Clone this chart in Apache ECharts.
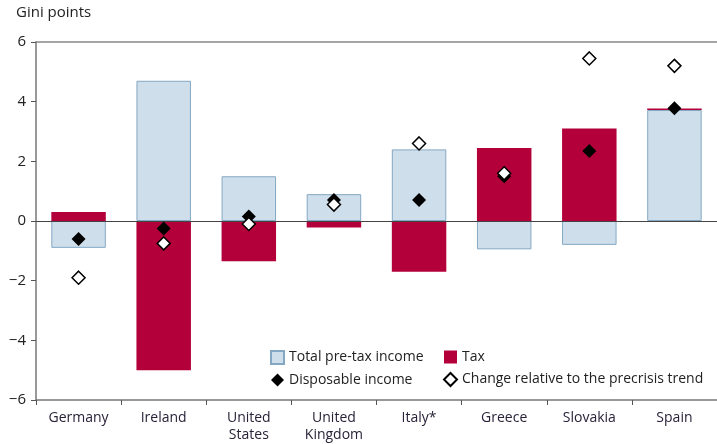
<!DOCTYPE html>
<html><head><meta charset="utf-8">
<script src="https://cdn.jsdelivr.net/npm/echarts@6/dist/echarts.min.js"></script>
<style>html,body{margin:0;padding:0;background:#fff}#c{width:717px;height:444px}</style>
</head><body><div id="c"></div>
<script>
const categories = ['Germany','Ireland','United\nStates','United\nKingdom','Italy*','Greece','Slovakia','Spain'];
const preTax = [-0.9, 4.7, 1.5, 0.9, 2.4, -0.95, -0.8, 3.72];
const tax = [0.3, -5.0, -1.35, -0.22, -1.7, 2.45, 3.1, 0.05];
const disposable = [-0.6, -0.25, 0.15, 0.7, 0.7, 1.5, 2.35, 3.78];
const change = [-1.9, -0.75, -0.1, 0.55, 2.6, 1.6, 5.45, 5.2];
const yTicks = {min: -6, max: 6, interval: 2};

const FONT = '"Open Sans", sans-serif';
const chart = echarts.init(document.getElementById('c'));
chart.setOption({
  animation: false,
  textStyle: {fontFamily: FONT},
  grid: {left: 36, right: 0, top: 42, bottom: 44},
  graphic: [{type: 'text', left: 16, top: 5, style: {text: 'Gini points', font: '15px ' + FONT, fill: '#222'}}],
  legend: [
    {left: 265, top: 345, orient: 'vertical', itemGap: 8, itemWidth: 13, itemHeight: 13,
     textStyle: {fontSize: 14, color: '#222', fontFamily: FONT},
     data: [{name: 'Total pre-tax income', icon: 'rect'}, {name: 'Disposable income', icon: 'diamond'}]},
    {left: 438, top: 345, orient: 'vertical', itemGap: 8, itemWidth: 13, itemHeight: 13,
     textStyle: {fontSize: 14, color: '#222', fontFamily: FONT},
     data: [{name: 'Tax', icon: 'rect'}, {name: 'Change relative to the precrisis trend', icon: 'diamond'}]}
  ],
  xAxis: [{
    type: 'category', data: categories, position: 'bottom',
    axisLine: {onZero: false, lineStyle: {color: '#777', width: 1.5}},
    axisTick: {show: true, length: 5, inside: false, lineStyle: {color: '#555'}},
    axisLabel: {fontSize: 14, color: '#2a2238', margin: 10, lineHeight: 17, fontFamily: FONT}
  }, {
    type: 'category', data: categories, position: 'top',
    axisLine: {onZero: false, lineStyle: {color: '#888', width: 1.5}},
    axisTick: {show: false}, axisLabel: {show: false}
  }],
  yAxis: {
    type: 'value', min: yTicks.min, max: yTicks.max, interval: yTicks.interval,
    axisLine: {show: true, lineStyle: {color: '#777', width: 1.5}},
    axisTick: {show: true, length: 5, lineStyle: {color: '#555'}},
    splitLine: {show: false},
    axisLabel: {fontSize: 15, color: '#222', margin: 10, fontFamily: FONT,
      formatter: v => String(v).replace('-', '\u2212')}
  },
  series: [
    {name: 'Total pre-tax income', type: 'bar', stack: 'a', barWidth: '64%', data: preTax,
     itemStyle: {color: '#cfdeeb', borderColor: '#84a8c4', borderWidth: 1},
     markLine: {silent: true, symbol: 'none', label: {show: false},
       lineStyle: {color: '#444', type: 'solid', width: 1.2}, data: [{yAxis: 0}]}},
    {name: 'Tax', type: 'bar', stack: 'a', barWidth: '64%', data: tax,
     itemStyle: {color: '#b3003a'}},
    {name: 'Disposable income', type: 'scatter', data: disposable, symbol: 'diamond', symbolSize: 14,
     itemStyle: {color: '#000', opacity: 1}, z: 5},
    {name: 'Change relative to the precrisis trend', type: 'scatter', data: change, symbol: 'diamond', symbolSize: 13,
     itemStyle: {color: '#fff', borderColor: '#000', borderWidth: 1.5, opacity: 1}, z: 6}
  ]
});
</script></body></html>
